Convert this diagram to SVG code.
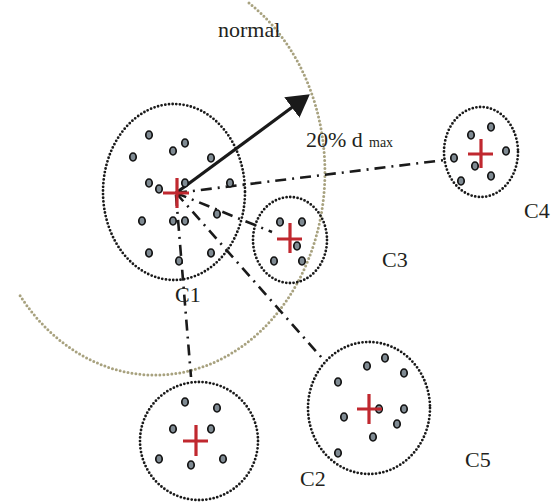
<svg xmlns="http://www.w3.org/2000/svg" width="551" height="503" viewBox="0 0 551 503">
  <defs>
    <style>
      .ring { fill: none; stroke: #1a1a1a; stroke-width: 2.8; stroke-dasharray: 0 3.7; stroke-linecap: round; }
      .bound { fill: none; stroke: #a8a27f; stroke-width: 3; stroke-dasharray: 0 4; stroke-linecap: round; }
      .pt { fill: #7f8a92; stroke: #111; stroke-width: 1.7; }
      .ctr { stroke: #c0282f; stroke-width: 3.2; fill: none; }
      .link { fill: none; stroke: #1a1a1a; stroke-width: 2.6; stroke-dasharray: 11 6 2 6; }
      .lbl { font-family: "Liberation Serif", "Times New Roman", serif; font-size: 22px; fill: #231f20; }
      .sub { font-family: "Liberation Serif", "Times New Roman", serif; font-size: 14px; fill: #231f20; }
    </style>
    <marker id="head" markerWidth="8" markerHeight="8" refX="5.5" refY="4" orient="auto" markerUnits="strokeWidth">
      <path d="M0,0 L7,4 L0,8 Z" fill="#1a1a1a"/>
    </marker>
  </defs>

  <!-- neighbourhood boundary around C1 -->
  <path class="bound" d="M 249 3 A 170 203 0 1 1 19 294"/>
  <text class="lbl" x="218" y="37">normal</text>

  <!-- links from the C1 centroid -->
  <g id="connectors">
    <line class="link" x1="176" y1="193" x2="445" y2="160"/>
    <line class="link" x1="176" y1="193" x2="272" y2="232"/>
    <line class="link" x1="176" y1="193" x2="322" y2="358"/>
    <line class="link" x1="176" y1="195" x2="191" y2="377"/>
    <line x1="176" y1="193" x2="306" y2="97" stroke="#1a1a1a" stroke-width="3.2" marker-end="url(#head)"/>
  </g>
  <text class="lbl" x="306" y="147">20% d</text>
  <text class="sub" x="369" y="147">max</text>

  <g id="C1">
    <ellipse class="ring" cx="174" cy="192" rx="71" ry="88"/>
    <ellipse class="pt" cx="149" cy="135" rx="3.2" ry="4"/>
    <ellipse class="pt" cx="185" cy="143" rx="3.2" ry="4"/>
    <ellipse class="pt" cx="173" cy="151" rx="3.2" ry="4"/>
    <ellipse class="pt" cx="133" cy="157" rx="3.2" ry="4"/>
    <ellipse class="pt" cx="211" cy="158" rx="3.2" ry="4"/>
    <ellipse class="pt" cx="149" cy="183" rx="3.2" ry="4"/>
    <ellipse class="pt" cx="159" cy="189" rx="3.2" ry="4"/>
    <ellipse class="pt" cx="185" cy="183" rx="3.2" ry="4"/>
    <ellipse class="pt" cx="230" cy="183" rx="3.2" ry="4"/>
    <ellipse class="pt" cx="142" cy="221" rx="3.2" ry="4"/>
    <ellipse class="pt" cx="173" cy="221" rx="3.2" ry="4"/>
    <ellipse class="pt" cx="185" cy="221" rx="3.2" ry="4"/>
    <ellipse class="pt" cx="217" cy="214" rx="3.2" ry="4"/>
    <ellipse class="pt" cx="149" cy="253" rx="3.2" ry="4"/>
    <ellipse class="pt" cx="211" cy="253" rx="3.2" ry="4"/>
    <ellipse class="pt" cx="179" cy="261" rx="3.2" ry="4"/>
    <path class="ctr" d="M163 193 H189 M177 178 V208"/>
    <text class="lbl" x="175" y="302">C1</text>
  </g>

  <g id="C3">
    <ellipse class="ring" cx="290" cy="240" rx="37" ry="43"/>
    <ellipse class="pt" cx="280" cy="222" rx="3.2" ry="4"/>
    <ellipse class="pt" cx="302" cy="222" rx="3.2" ry="4"/>
    <ellipse class="pt" cx="297" cy="246" rx="3.2" ry="4"/>
    <ellipse class="pt" cx="274" cy="261" rx="3.2" ry="4"/>
    <ellipse class="pt" cx="302" cy="261" rx="3.2" ry="4"/>
    <path class="ctr" d="M277 239 H302 M290 223 V253"/>
    <text class="lbl" x="382" y="267">C3</text>
  </g>

  <g id="C4">
    <ellipse class="ring" cx="481" cy="152" rx="37" ry="45"/>
    <ellipse class="pt" cx="491" cy="127" rx="3.2" ry="4"/>
    <ellipse class="pt" cx="471" cy="135" rx="3.2" ry="4"/>
    <ellipse class="pt" cx="506" cy="151" rx="3.2" ry="4"/>
    <ellipse class="pt" cx="454" cy="158" rx="3.2" ry="4"/>
    <ellipse class="pt" cx="475" cy="166" rx="3.2" ry="4"/>
    <ellipse class="pt" cx="491" cy="176" rx="3.2" ry="4"/>
    <ellipse class="pt" cx="461" cy="181" rx="3.2" ry="4"/>
    <path class="ctr" d="M468 154 H493 M481 139 V168"/>
    <text class="lbl" x="524" y="218">C4</text>
  </g>

  <g id="C2">
    <ellipse class="ring" cx="199" cy="441" rx="59" ry="59"/>
    <ellipse class="pt" cx="185" cy="402" rx="3.2" ry="4"/>
    <ellipse class="pt" cx="217" cy="408" rx="3.2" ry="4"/>
    <ellipse class="pt" cx="173" cy="429" rx="3.2" ry="4"/>
    <ellipse class="pt" cx="211" cy="429" rx="3.2" ry="4"/>
    <ellipse class="pt" cx="159" cy="459" rx="3.2" ry="4"/>
    <ellipse class="pt" cx="191" cy="465" rx="3.2" ry="4"/>
    <ellipse class="pt" cx="223" cy="459" rx="3.2" ry="4"/>
    <path class="ctr" d="M183 441 H208 M196 425 V456"/>
    <text class="lbl" x="300" y="486">C2</text>
  </g>

  <g id="C5">
    <ellipse class="ring" cx="369" cy="408" rx="61" ry="66"/>
    <ellipse class="pt" cx="385" cy="358" rx="3.2" ry="4"/>
    <ellipse class="pt" cx="367" cy="366" rx="3.2" ry="4"/>
    <ellipse class="pt" cx="404" cy="373" rx="3.2" ry="4"/>
    <ellipse class="pt" cx="338" cy="382" rx="3.2" ry="4"/>
    <ellipse class="pt" cx="379" cy="409" rx="3.2" ry="4"/>
    <ellipse class="pt" cx="404" cy="409" rx="3.2" ry="4"/>
    <ellipse class="pt" cx="344" cy="417" rx="3.2" ry="4"/>
    <ellipse class="pt" cx="397" cy="424" rx="3.2" ry="4"/>
    <ellipse class="pt" cx="373" cy="437" rx="3.2" ry="4"/>
    <ellipse class="pt" cx="338" cy="453" rx="3.2" ry="4"/>
    <path class="ctr" d="M357 409 H382 M369 394 V424"/>
    <text class="lbl" x="465" y="467">C5</text>
  </g>
</svg>
